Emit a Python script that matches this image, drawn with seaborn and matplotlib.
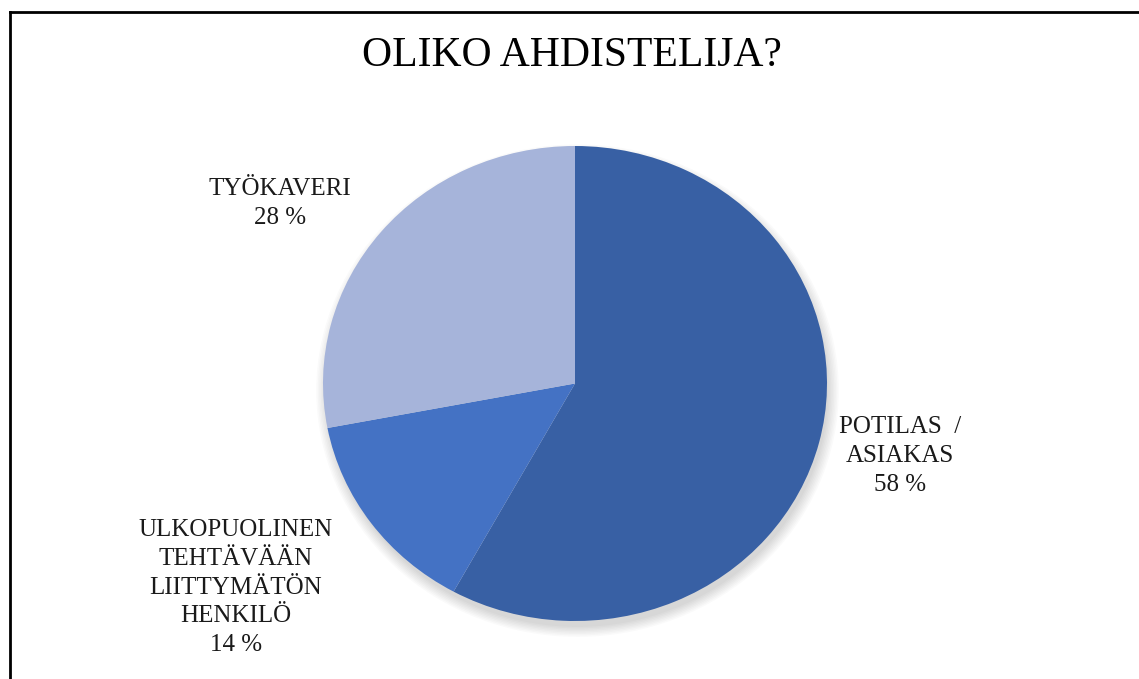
import matplotlib.pyplot as plt
from matplotlib.lines import Line2D
from matplotlib.patches import Ellipse
import seaborn as sns

# data
labels = ["POTILAS  /\nASIAKAS", "ULKOPUOLINEN\nTEHTÄVÄÄN\nLIITTYMÄTÖN\nHENKILÖ", "TYÖKAVERI"]
shares = [58, 14, 28]
colors = ["#3860A4", "#4472C4", "#A6B4DA"]
label_pos = [(900, 416), (236, 519), (280, 178)]  # pixel x-centre / top of each label block

sns.set_theme(style="white")
plt.rcParams["font.family"] = ["Liberation Serif", "DejaVu Serif"]

W, H = 1139, 679
fig = plt.figure(figsize=(W / 100, H / 100), dpi=100)
fig.patch.set_facecolor("white")

# pie box (slightly wider than tall, like the original)
cx, cy, rx, ry = 575, 383.5, 252, 237.5
ax = fig.add_axes([(cx - rx) / W, (H - cy - ry) / H, 2 * rx / W, 2 * ry / H])

# soft shadow under the pie
for k in range(8):
    ax.add_patch(Ellipse((0.01, -0.03), 1.99 + 0.012 * k, 1.99 + 0.012 * k,
                         facecolor="black", edgecolor="none", alpha=0.02,
                         zorder=0, clip_on=False))

ax.pie(shares, colors=colors, startangle=90, counterclock=False,
       wedgeprops=dict(linewidth=0, edgecolor="none", zorder=2))
ax.set_aspect("auto")
ax.set_xlim(-1, 1)
ax.set_ylim(-1, 1)
ax.axis("off")

for lab, v, (px, py) in zip(labels, shares, label_pos):
    fig.text(px / W, 1 - py / H, f"{lab}\n{v} %", ha="center", va="top",
             fontsize=18, color="#1a1a1a", linespacing=1.4)

fig.text(572 / W, 1 - 56 / H, "OLIKO AHDISTELIJA?", ha="center", va="center",
         fontsize=30, color="black")

# chart border (left and top edges visible)
fig.add_artist(Line2D([9.5 / W, 9.5 / W], [0, 1 - 12 / H], transform=fig.transFigure,
                      color="black", linewidth=2, solid_capstyle="projecting"))
fig.add_artist(Line2D([9.5 / W, 1], [1 - 12 / H, 1 - 12 / H], transform=fig.transFigure,
                      color="black", linewidth=2, solid_capstyle="projecting"))

fig.savefig("out.png", dpi=100, facecolor="white")
